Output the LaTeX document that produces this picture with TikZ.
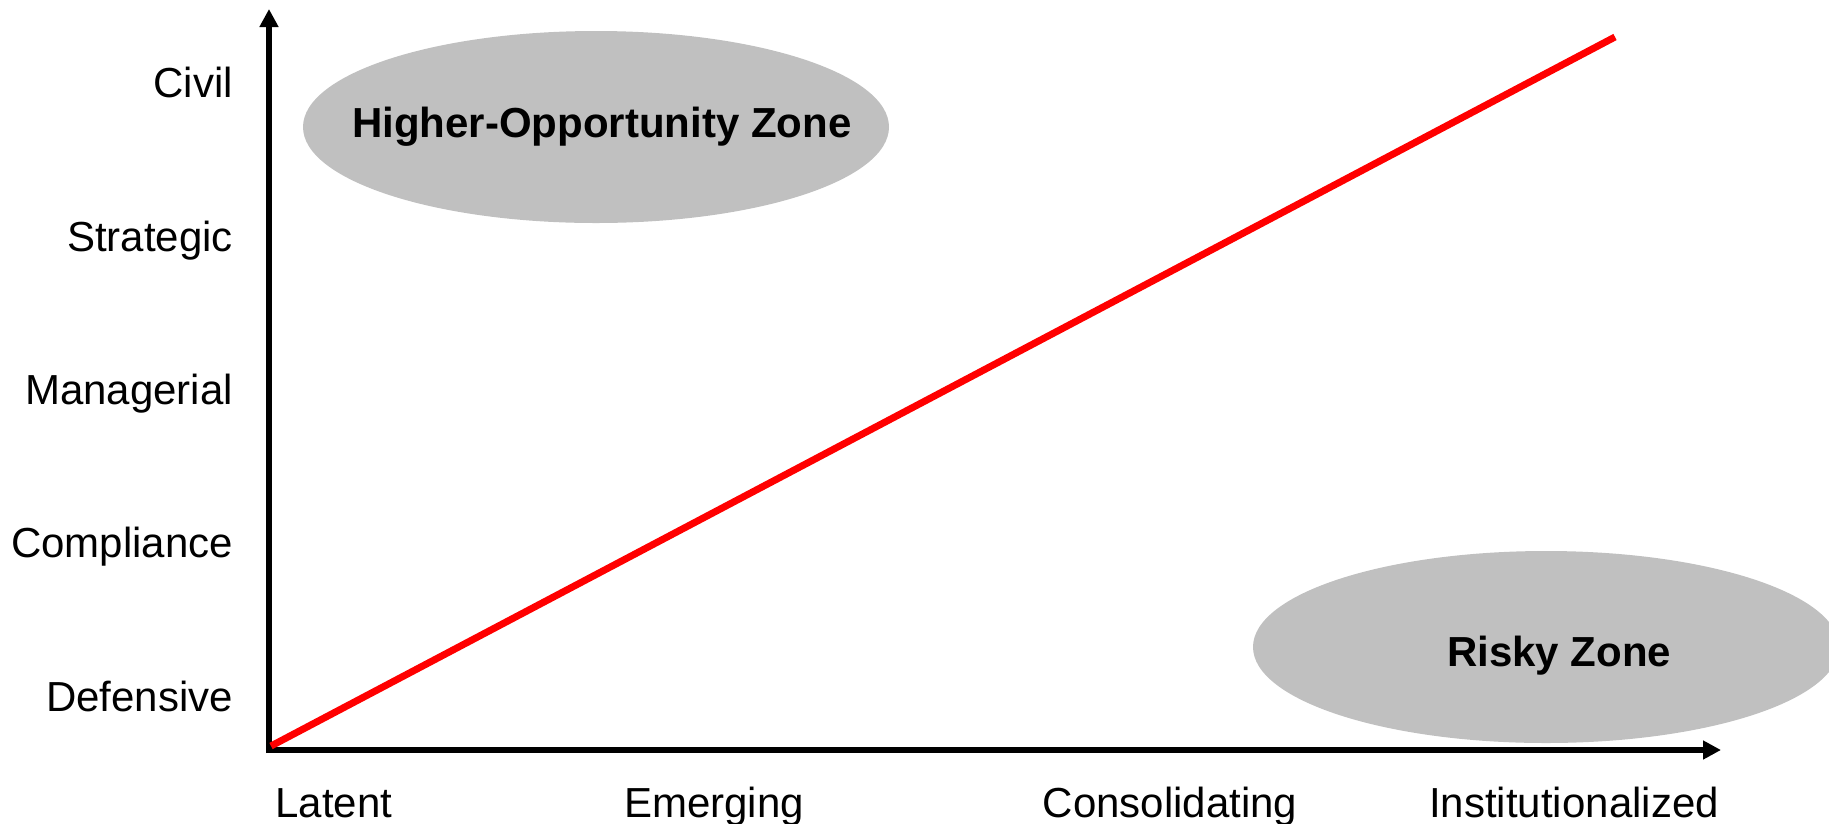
\documentclass[tikz,border=0pt]{standalone}
\usepackage{fontspec}
\setmainfont{Liberation Sans}
\usetikzlibrary{arrows.meta,shapes.geometric}
\definecolor{zonegray}{RGB}{192,192,192}
\definecolor{trendred}{RGB}{255,0,0}
\tikzset{
  lbl/.style={font=\fontsize{42}{50}\selectfont, inner sep=0pt},
  ylbl/.style={lbl, anchor=base east},
  xlbl/.style={lbl, anchor=base},
  zone/.style={ellipse, fill=zonegray, draw=none, minimum width=586pt, minimum height=192pt, inner sep=0pt},
  zonetext/.style={lbl, font=\fontsize{42}{50}\selectfont\bfseries, anchor=base west},
  axis/.style={line width=6pt, -{Triangle[length=18pt,width=18pt]}},
  trend/.style={line width=7pt, draw=trendred},
}
\begin{document}
\begin{tikzpicture}[x=1pt,y=-1pt]
\useasboundingbox (0,0) rectangle (1829,823);
% zones
\node[zone] (hoz) at (596,127) {};
\node[zonetext] (hozt) at (352,137) {Higher-Opportunity Zone};
\node[zone] (rz) at (1546,647) {};
\node[zonetext] (rzt) at (1447,666) {Risky Zone};
% axes
\coordinate (Otop) at (269,753);
\coordinate (Oleft) at (266,750);
\coordinate (Ytip) at (269,9);
\coordinate (Xtip) at (1721,750);
\draw[axis] (Otop) -- (Ytip);
\draw[axis] (Oleft) -- (Xtip);
% trend line
\coordinate (Rstart) at (271,746);
\coordinate (Rend) at (1615,37);
\draw[trend] (Rstart) -- (Rend);
% y labels
\node[ylbl] (civ) at (233,97) {Civil};
\node[ylbl] (str) at (233,251) {Strategic};
\node[ylbl] (man) at (233,404) {Managerial};
\node[ylbl] (com) at (233,557) {Compliance};
\node[ylbl] (def) at (233,711) {Defensive};
% x labels
\node[xlbl] (lat) at (334,817) {Latent};
\node[xlbl] (eme) at (714,817) {Emerging};
\node[xlbl] (con) at (1170,817) {Consolidating};
\node[xlbl] (ins) at (1574,817) {Institutionalized};
\end{tikzpicture}
\end{document}
